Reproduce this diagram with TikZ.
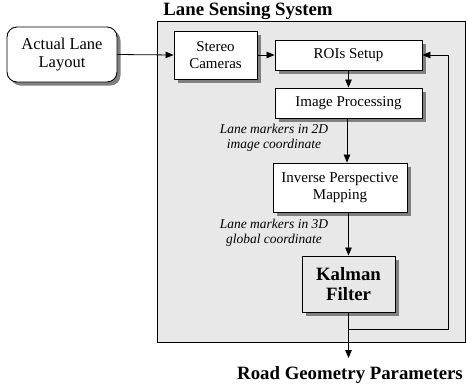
\documentclass[tikz,border=0pt]{standalone}
\usepackage{fontspec}
\setmainfont{Liberation Serif}
\usetikzlibrary{arrows.meta,shadows}
\definecolor{bggrey}{HTML}{E8E8E8}
\definecolor{shgrey}{HTML}{808080}
\tikzset{
  blk/.style={draw=black, line width=0.9pt, fill=white, align=center, inner sep=0pt,
    drop shadow={shadow xshift=3.5pt, shadow yshift=-3.5pt, fill=shgrey, opacity=1}},
  txt/.style={font=\fontsize{15}{17}\selectfont},
  lbl/.style={align=center, inner sep=0pt, font=\fontsize{13.5}{15}\selectfont\itshape},
  bigb/.style={align=center, inner sep=0pt, font=\fontsize{18.8}{20}\selectfont\bfseries},
  conn/.style={line width=0.8pt},
  arr/.style={conn, -{Triangle[length=8pt,width=6.5pt]}},
}
\begin{document}
\begin{tikzpicture}[x=1pt,y=-1pt]
\useasboundingbox (0,0) rectangle (467,384);
\fill[white] (0,0) rectangle (467,384);
\node[draw=black, line width=0.9pt, fill=bggrey, minimum width=308pt, minimum height=321pt, inner sep=0pt] (sys) at (311,181.5) {};
\node[bigb] (title) at (248,11) {Lane Sensing System};
\node[blk, rounded corners=10pt, minimum width=110pt, minimum height=55pt, font=\fontsize{16.5}{18}\selectfont] (actual) at (62,54.5) {Actual Lane\\Layout};
\node[blk, txt, minimum width=83pt, minimum height=48pt] (stereo) at (215.5,55) {Stereo\\Cameras};
\node[blk, txt, minimum width=147pt, minimum height=30pt] (roi) at (348.5,55) {ROIs Setup};
\node[blk, txt, minimum width=147pt, minimum height=30pt] (imgp) at (348.5,103) {Image Processing};
\node[blk, txt, minimum width=134pt, minimum height=49pt] (ipm) at (340,187.5) {Inverse Perspective\\Mapping};
\node[blk, fill=bggrey, minimum width=93pt, minimum height=56pt, font=\fontsize{18.8}{20}\selectfont\bfseries] (kalman) at (348.5,284) {Kalman\\Filter};
\node[lbl] (l2d) at (274,137.5) {Lane markers in 2D\\image coordinate};
\node[lbl] (l3d) at (274,233) {Lane markers in 3D\\global coordinate};
\node[bigb] (road) at (350,375) {Road Geometry Parameters};
\coordinate (fb) at (348.5,329);
\coordinate (fbr) at (448,329);
\coordinate (out) at (348.5,358);
\draw[arr] (actual.east) -- (stereo.west);
\draw[arr] (stereo.east) -- (roi.west);
\draw[arr] (roi.south) -- (imgp.north);
\draw[arr] (imgp.south -| 347,0) -- (ipm.north -| 347,0);
\draw[arr] (ipm.south -| kalman.north) -- (kalman.north);
\draw[arr] (kalman.south) -- (out);
\draw[arr] (fb) -- (fbr) -- (fbr |- roi.east) -- (roi.east);
\end{tikzpicture}
\end{document}
